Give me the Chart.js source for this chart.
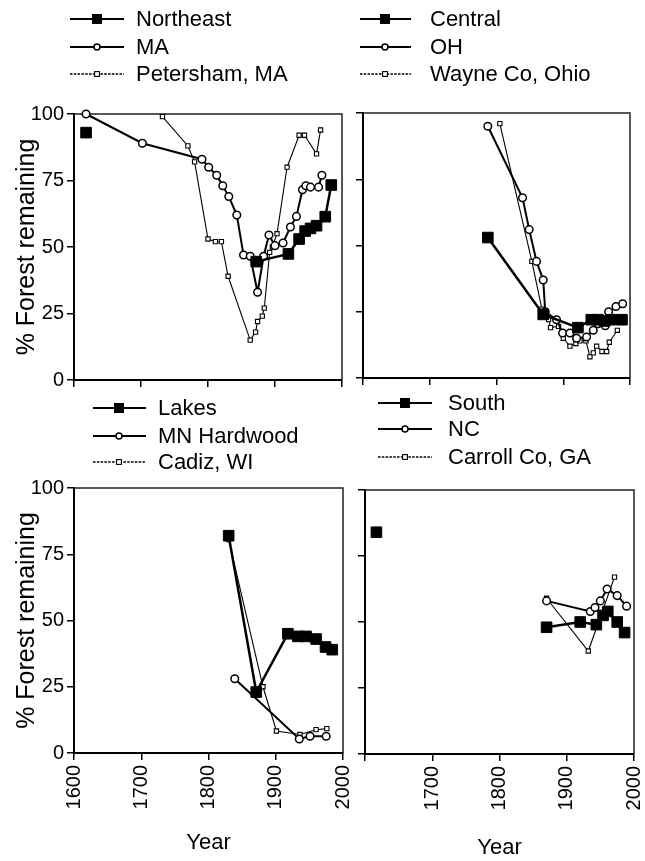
<!DOCTYPE html>
<html>
<head>
<meta charset="utf-8">
<title>% Forest remaining</title>
<script src="https://cdn.jsdelivr.net/npm/chart.js@4.4.0/dist/chart.umd.min.js"></script>
<style>
  body { margin: 0; background: #fff; }
  #wrap { position: relative; width: 645px; height: 861px; overflow: hidden; background: #fff; }
  canvas { position: absolute; }
</style>
</head>
<body>
<div id="wrap">
  <canvas id="chartNE" width="380" height="400" style="left:0;top:0"></canvas>
  <canvas id="chartCentral" width="330" height="400" style="left:345px;top:0"></canvas>
  <canvas id="chartLakes" width="380" height="471" style="left:0;top:390px"></canvas>
  <canvas id="chartSouth" width="330" height="471" style="left:345px;top:390px"></canvas>
</div>
<script>
// ---- data (year, % forest remaining) ----
// null value = break in the line
const neYears = [1618, 1700, 1872, 1920, 1936, 1945, 1953, 1962, 1975, 1984];
const neValues = [93, null, 44.5, 47.4, 53, 56, 57, 58, 61.4, 73.3];
const maYears = [1618, 1702, 1791, 1801, 1813, 1822, 1831, 1843, 1853, 1863, 1874, 1883, 1891, 1900, 1912, 1923, 1932, 1941, 1946, 1953, 1965, 1970];
const maValues = [100, 89, 83, 80, 77, 73, 69, 62, 47, 46.5, 33, 46.5, 54.5, 50.5, 51.5, 57.5, 61.5, 71.5, 73, 72.5, 72.5, 77];
const peterYears = [1732, 1770, 1780, 1800, 1811, 1820, 1830, 1863, 1871, 1874, 1881, 1884, 1892, 1896, 1903, 1918, 1936, 1944, 1962, 1968];
const peterValues = [99, 88, 82, 53, 52, 52, 39, 15, 18, 22, 24, 27, 48, 50, 55, 80, 92, 92, 85, 94];

const centralYears = [1787, 1870, 1922, 1942, 1952, 1962, 1972, 1988];
const centralValues = [53, 24, 19, 22, 22, 21.5, 22, 22];
const ohYears = [1787, 1839, 1849, 1860, 1870, 1873, 1890, 1899, 1910, 1920, 1935, 1945, 1952, 1963, 1968, 1979, 1989];
const ohValues = [95, 68, 56, 44, 37, 25, 22, 17, 17, 15, 15.5, 18, 20.5, 19.7, 25, 27, 28];
const wayneYears = [1805, 1853, 1868, 1878, 1881, 1893, 1900, 1910, 1919, 1925, 1934, 1940, 1945, 1950, 1958, 1965, 1969, 1981];
const wayneValues = [96, 44, 26, 22, 19, 19.5, 15, 12, 13, 14, 14, 8, 9.5, 12, 10, 10, 13.5, 18];

const lakesYears = [1830, 1871, 1918, 1933, 1945, 1960, 1974, 1984];
const lakesValues = [82, 23, 45, 44, 44, 43, 40, 39];
const mnYears = [1839, 1935, 1951, 1975];
const mnValues = [28, 5.3, 6.3, 6.3];
const cadizYears = [1830, 1881, 1901, 1936, 1960, 1976];
const cadizValues = [80.5, 25, 8.3, 7, 8.8, 9.2];

const southYears = [1617, 1700, 1870, 1920, 1944, 1954, 1961, 1975, 1986];
const southValues = [84, null, 48, 50, 49, 52.5, 54, 50, 46];
const ncYears = [1870, 1935, 1942, 1950, 1960, 1975, 1989];
const ncValues = [58, 54, 55.5, 58, 62.5, 60, 56];
const carrollYears = [1870, 1932, 1971];
const carrollValues = [59, 39, 67];

const yearTicks = [1600, 1700, 1800, 1900, 2000];
const pctTicks = [0, 25, 50, 75, 100];

const FONT = '"Liberation Sans", Arial, Helvetica, sans-serif';
Chart.defaults.font.family = FONT;
Chart.defaults.color = '#000';

const toPoints = (years, values) => years.map((x, i) => ({ x, y: values[i] }));

// filled squares, heavy line
const regionSeries = (label, years, values) => ({
  label, data: toPoints(years, values), showLine: true, spanGaps: false, clip: false,
  borderColor: '#000', borderWidth: 2.5,
  pointStyle: 'rect', pointRadius: 7.5, pointBackgroundColor: '#000', pointBorderColor: '#000', pointBorderWidth: 1,
  legendRadius: 4.5, legendWidth: 2,
});
// open circles, medium line
const stateSeries = (label, years, values) => ({
  label, data: toPoints(years, values), showLine: true, clip: false,
  borderColor: '#000', borderWidth: 2,
  pointStyle: 'circle', pointRadius: 3.8, pointBackgroundColor: '#fff', pointBorderColor: '#000', pointBorderWidth: 1.5,
  legendRadius: 3, legendWidth: 2,
});
// small open squares, thin line
const countySeries = (label, years, values) => ({
  label, data: toPoints(years, values), showLine: true, clip: false,
  borderColor: '#000', borderWidth: 1.1,
  pointStyle: 'rect', pointRadius: 3, pointBackgroundColor: '#fff', pointBorderColor: '#000', pointBorderWidth: 1.1,
  legendRadius: 2.4, legendWidth: 1.3, legendDash: [2.5, 1.3],
});

// top and right sides of the plot box
const frameBox = {
  id: 'frameBox',
  beforeDatasetsDraw(chart) {
    const { ctx, chartArea: a } = chart;
    ctx.save();
    ctx.strokeStyle = '#222';
    ctx.lineWidth = 1.5;
    ctx.beginPath();
    ctx.moveTo(a.left, a.top);
    ctx.lineTo(a.right, a.top);
    ctx.lineTo(a.right, a.bottom);
    ctx.stroke();
    ctx.restore();
  },
};

// legend rows: line sample + marker + label
const lineLegend = {
  id: 'lineLegend',
  afterDraw(chart, args, opts) {
    const ctx = chart.ctx;
    chart.data.datasets.forEach((ds, i) => {
      const y = opts.rows[i];
      ctx.save();
      ctx.strokeStyle = '#000';
      ctx.lineWidth = ds.legendWidth;
      ctx.setLineDash(ds.legendDash || []);
      ctx.beginPath();
      ctx.moveTo(opts.x1, y);
      ctx.lineTo(opts.x2, y);
      ctx.stroke();
      ctx.setLineDash([]);
      const r = ds.legendRadius;
      ctx.fillStyle = ds.pointBackgroundColor;
      ctx.lineWidth = ds.pointBorderWidth;
      if (ds.pointStyle === 'circle') {
        ctx.beginPath();
        ctx.arc(opts.mx, y, r, 0, Math.PI * 2);
        ctx.fill();
        ctx.stroke();
      } else {
        ctx.fillRect(opts.mx - r, y - r, 2 * r, 2 * r);
        ctx.strokeRect(opts.mx - r, y - r, 2 * r, 2 * r);
      }
      ctx.fillStyle = '#000';
      ctx.font = '22px ' + FONT;
      ctx.textBaseline = 'middle';
      ctx.textAlign = 'left';
      ctx.fillText(ds.label, opts.tx, y + 1);
      ctx.restore();
    });
  },
};

function makePanel(id, datasets, cfg) {
  const axisGrid = { drawOnChartArea: false, drawTicks: true, tickLength: 7, color: '#000', lineWidth: 1.5 };
  const axisBorder = { display: true, color: '#000', width: 2 };
  return new Chart(document.getElementById(id), {
    type: 'scatter',
    data: { datasets },
    options: {
      responsive: false,
      animation: false,
      events: [],
      layout: { padding: { left: 0, top: cfg.top, right: cfg.right, bottom: 0 } },
      plugins: {
        legend: { display: false },
        tooltip: { enabled: false },
        lineLegend: cfg.legend,
      },
      scales: {
        x: {
          type: 'linear',
          min: yearTicks[0],
          max: yearTicks[yearTicks.length - 1],
          afterFit: (s) => { s.height = cfg.xH; },
          afterBuildTicks: (s) => { s.ticks = yearTicks.map((v) => ({ value: v })); },
          ticks: {
            display: cfg.bottomLabels,
            autoSkip: false,
            minRotation: 90,
            maxRotation: 90,
            padding: 5,
            font: { size: 20, lineHeight: 1 },
            callback: (v) => (cfg.hide1600 && v === 1600 ? '' : String(v)),
          },
          grid: axisGrid,
          border: axisBorder,
          title: {
            display: cfg.bottomLabels,
            text: 'Year',
            font: { size: 22 },
            padding: { top: 0, bottom: cfg.yearPad || 0 },
          },
        },
        y: {
          min: 0,
          max: 100,
          afterFit: (s) => { s.width = cfg.axisW; },
          afterBuildTicks: (s) => { s.ticks = pctTicks.map((v) => ({ value: v })); },
          ticks: { display: cfg.leftLabels, padding: 3, font: { size: 20 } },
          grid: axisGrid,
          border: axisBorder,
          title: {
            display: cfg.leftLabels,
            text: '% Forest remaining',
            font: { size: 25 },
            padding: { top: 12, bottom: 0 },
          },
        },
      },
    },
    plugins: [frameBox, lineLegend],
  });
}

makePanel('chartNE', [
  regionSeries('Northeast', neYears, neValues),
  stateSeries('MA', maYears, maValues),
  countySeries('Petersham, MA', peterYears, peterValues),
], {
  top: 114, right: 38, xH: 20, axisW: 74, leftLabels: true, bottomLabels: false,
  legend: { x1: 70, x2: 124, mx: 97, tx: 136, rows: [19, 47, 74] },
});

makePanel('chartCentral', [
  regionSeries('Central', centralYears, centralValues),
  stateSeries('OH', ohYears, ohValues),
  countySeries('Wayne Co, Ohio', wayneYears, wayneValues),
], {
  top: 113, right: 45, xH: 22, axisW: 18, leftLabels: false, bottomLabels: false,
  legend: { x1: 15, x2: 66, mx: 40, tx: 85, rows: [19, 47, 74] },
});

makePanel('chartLakes', [
  regionSeries('Lakes', lakesYears, lakesValues),
  stateSeries('MN Hardwood', mnYears, mnValues),
  countySeries('Cadiz, WI', cadizYears, cadizValues),
], {
  top: 98, right: 37, xH: 108, axisW: 74, leftLabels: true, bottomLabels: true, yearPad: 5,
  legend: { x1: 93, x2: 146, mx: 119, tx: 158, rows: [18, 46, 72] },
});

makePanel('chartSouth', [
  regionSeries('South', southYears, southValues),
  stateSeries('NC', ncYears, ncValues),
  countySeries('Carroll Co, GA', carrollYears, carrollValues),
], {
  top: 100, right: 41, xH: 107, axisW: 20, leftLabels: false, bottomLabels: true, hide1600: true, yearPad: 0,
  legend: { x1: 33, x2: 87, mx: 60, tx: 103, rows: [13, 39, 67] },
});
</script>
</body>
</html>
